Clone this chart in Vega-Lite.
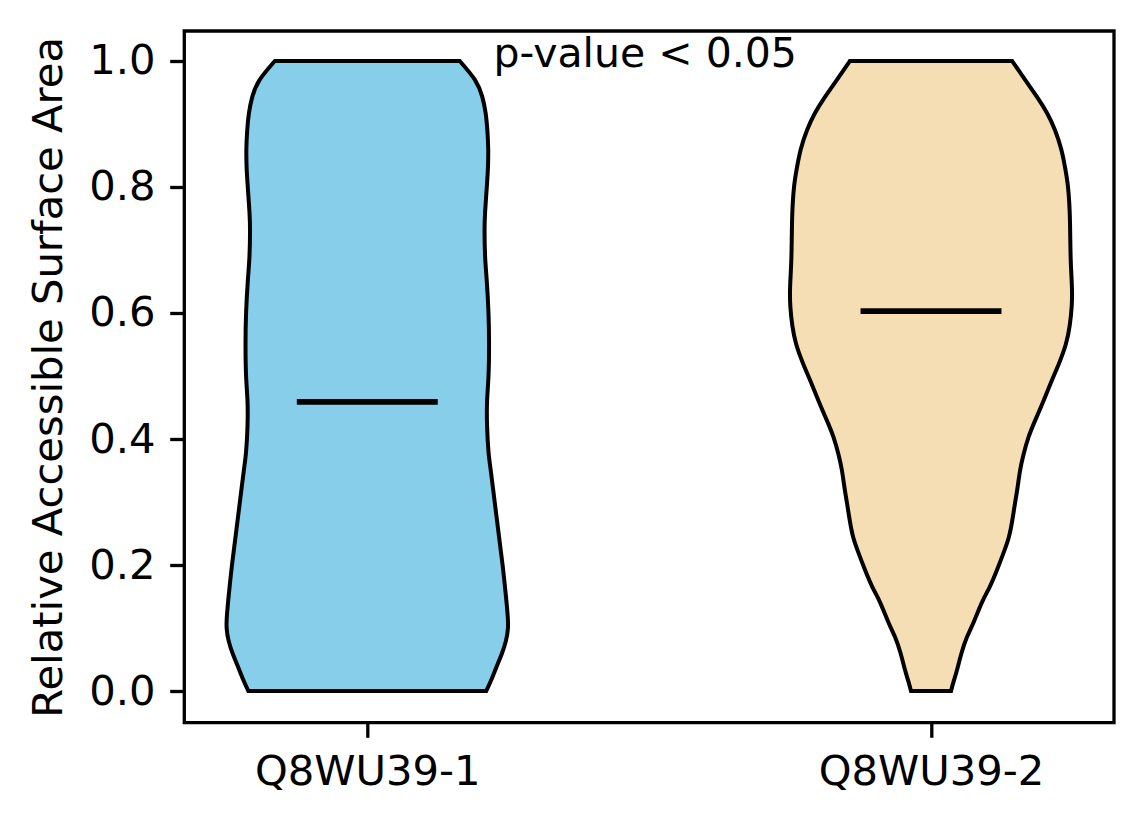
{
  "$schema": "https://vega.github.io/schema/vega-lite/v6.json",
  "width": 929.7,
  "height": 691.7,
  "autosize": "none",
  "padding": {"left": 184.3, "top": 31, "right": 30, "bottom": 101.3},
  "background": "white",
  "config": {
    "view": {"stroke": "black", "strokeWidth": 3.3},
    "font": "DejaVu Sans",
    "axis": {
      "labelFont": "DejaVu Sans",
      "titleFont": "DejaVu Sans",
      "labelFontSize": 41.7,
      "titleFontSize": 41.7,
      "titleFontWeight": "normal",
      "labelColor": "black",
      "titleColor": "black",
      "labelLimit": 500,
      "titleLimit": 1000,
      "domain": false,
      "grid": false,
      "ticks": true,
      "tickColor": "black",
      "tickWidth": 3.3,
      "tickSize": 14.6,
      "labelPadding": 14.6
    }
  },
  "datasets": {
    "violins": [
      {"g": "Q8WU39-1", "y": 1.0, "lo": 0.836, "hi": 1.164},
      {"g": "Q8WU39-1", "y": 0.970, "lo": 0.809, "hi": 1.191},
      {"g": "Q8WU39-1", "y": 0.943, "lo": 0.796, "hi": 1.204},
      {"g": "Q8WU39-1", "y": 0.917, "lo": 0.790, "hi": 1.210},
      {"g": "Q8WU39-1", "y": 0.890, "lo": 0.787, "hi": 1.213},
      {"g": "Q8WU39-1", "y": 0.860, "lo": 0.7855, "hi": 1.2145},
      {"g": "Q8WU39-1", "y": 0.830, "lo": 0.786, "hi": 1.214},
      {"g": "Q8WU39-1", "y": 0.800, "lo": 0.788, "hi": 1.212},
      {"g": "Q8WU39-1", "y": 0.760, "lo": 0.791, "hi": 1.209},
      {"g": "Q8WU39-1", "y": 0.730, "lo": 0.792, "hi": 1.208},
      {"g": "Q8WU39-1", "y": 0.690, "lo": 0.791, "hi": 1.209},
      {"g": "Q8WU39-1", "y": 0.650, "lo": 0.788, "hi": 1.212},
      {"g": "Q8WU39-1", "y": 0.600, "lo": 0.785, "hi": 1.215},
      {"g": "Q8WU39-1", "y": 0.550, "lo": 0.784, "hi": 1.216},
      {"g": "Q8WU39-1", "y": 0.500, "lo": 0.785, "hi": 1.215},
      {"g": "Q8WU39-1", "y": 0.460, "lo": 0.7875, "hi": 1.2125},
      {"g": "Q8WU39-1", "y": 0.420, "lo": 0.7875, "hi": 1.2125},
      {"g": "Q8WU39-1", "y": 0.380, "lo": 0.785, "hi": 1.215},
      {"g": "Q8WU39-1", "y": 0.350, "lo": 0.781, "hi": 1.219},
      {"g": "Q8WU39-1", "y": 0.300, "lo": 0.774, "hi": 1.226},
      {"g": "Q8WU39-1", "y": 0.250, "lo": 0.767, "hi": 1.233},
      {"g": "Q8WU39-1", "y": 0.200, "lo": 0.760, "hi": 1.240},
      {"g": "Q8WU39-1", "y": 0.150, "lo": 0.754, "hi": 1.246},
      {"g": "Q8WU39-1", "y": 0.120, "lo": 0.751, "hi": 1.249},
      {"g": "Q8WU39-1", "y": 0.100, "lo": 0.7505, "hi": 1.2495},
      {"g": "Q8WU39-1", "y": 0.080, "lo": 0.754, "hi": 1.246},
      {"g": "Q8WU39-1", "y": 0.060, "lo": 0.761, "hi": 1.239},
      {"g": "Q8WU39-1", "y": 0.040, "lo": 0.770, "hi": 1.230},
      {"g": "Q8WU39-1", "y": 0.020, "lo": 0.779, "hi": 1.221},
      {"g": "Q8WU39-1", "y": 0.0, "lo": 0.789, "hi": 1.211},
      {"g": "Q8WU39-2", "y": 1.0, "lo": 1.856, "hi": 2.144},
      {"g": "Q8WU39-2", "y": 0.970, "lo": 1.833, "hi": 2.167},
      {"g": "Q8WU39-2", "y": 0.943, "lo": 1.812, "hi": 2.188},
      {"g": "Q8WU39-2", "y": 0.917, "lo": 1.794, "hi": 2.206},
      {"g": "Q8WU39-2", "y": 0.890, "lo": 1.780, "hi": 2.220},
      {"g": "Q8WU39-2", "y": 0.860, "lo": 1.769, "hi": 2.231},
      {"g": "Q8WU39-2", "y": 0.830, "lo": 1.762, "hi": 2.238},
      {"g": "Q8WU39-2", "y": 0.800, "lo": 1.757, "hi": 2.243},
      {"g": "Q8WU39-2", "y": 0.760, "lo": 1.754, "hi": 2.246},
      {"g": "Q8WU39-2", "y": 0.720, "lo": 1.753, "hi": 2.247},
      {"g": "Q8WU39-2", "y": 0.680, "lo": 1.752, "hi": 2.248},
      {"g": "Q8WU39-2", "y": 0.640, "lo": 1.750, "hi": 2.250},
      {"g": "Q8WU39-2", "y": 0.610, "lo": 1.7505, "hi": 2.2495},
      {"g": "Q8WU39-2", "y": 0.580, "lo": 1.754, "hi": 2.246},
      {"g": "Q8WU39-2", "y": 0.550, "lo": 1.761, "hi": 2.239},
      {"g": "Q8WU39-2", "y": 0.520, "lo": 1.773, "hi": 2.227},
      {"g": "Q8WU39-2", "y": 0.490, "lo": 1.787, "hi": 2.213},
      {"g": "Q8WU39-2", "y": 0.457, "lo": 1.802, "hi": 2.198},
      {"g": "Q8WU39-2", "y": 0.430, "lo": 1.815, "hi": 2.185},
      {"g": "Q8WU39-2", "y": 0.403, "lo": 1.827, "hi": 2.173},
      {"g": "Q8WU39-2", "y": 0.375, "lo": 1.836, "hi": 2.164},
      {"g": "Q8WU39-2", "y": 0.350, "lo": 1.842, "hi": 2.158},
      {"g": "Q8WU39-2", "y": 0.320, "lo": 1.847, "hi": 2.153},
      {"g": "Q8WU39-2", "y": 0.298, "lo": 1.851, "hi": 2.149},
      {"g": "Q8WU39-2", "y": 0.270, "lo": 1.856, "hi": 2.144},
      {"g": "Q8WU39-2", "y": 0.244, "lo": 1.862, "hi": 2.138},
      {"g": "Q8WU39-2", "y": 0.220, "lo": 1.871, "hi": 2.129},
      {"g": "Q8WU39-2", "y": 0.192, "lo": 1.883, "hi": 2.117},
      {"g": "Q8WU39-2", "y": 0.165, "lo": 1.896, "hi": 2.104},
      {"g": "Q8WU39-2", "y": 0.140, "lo": 1.910, "hi": 2.090},
      {"g": "Q8WU39-2", "y": 0.110, "lo": 1.924, "hi": 2.076},
      {"g": "Q8WU39-2", "y": 0.086, "lo": 1.936, "hi": 2.064},
      {"g": "Q8WU39-2", "y": 0.060, "lo": 1.946, "hi": 2.054},
      {"g": "Q8WU39-2", "y": 0.033, "lo": 1.954, "hi": 2.046},
      {"g": "Q8WU39-2", "y": 0.015, "lo": 1.960, "hi": 2.040},
      {"g": "Q8WU39-2", "y": 0.0, "lo": 1.9645, "hi": 2.0355}
    ],
    "medians": [
      {"g": "Q8WU39-1", "m": 0.459, "lo": 0.875, "hi": 1.125},
      {"g": "Q8WU39-2", "m": 0.603, "lo": 1.875, "hi": 2.125}
    ],
    "notes": [
      {"x": 1.493, "y": 0.991, "label": "p-value < 0.05"}
    ]
  },
  "layer": [
    {
      "data": {"name": "violins"},
      "mark": {"type": "area", "orient": "horizontal", "interpolate": "natural", "stroke": "black", "strokeWidth": 4, "strokeJoin": "miter", "opacity": 1, "fillOpacity": 1},
      "encoding": {
        "y": {"field": "y", "type": "quantitative", "scale": {"domain": [-0.0503, 1.0476], "nice": false, "zero": false},
              "axis": {"title": "Relative Accessible Surface Area", "values": [0, 0.2, 0.4, 0.6, 0.8, 1.0], "format": ".1f", "titlePadding": 18}},
        "x": {"field": "lo", "type": "quantitative", "stack": null, "scale": {"domain": [0.6754, 2.3246], "nice": false, "zero": false},
              "axis": {"title": null, "values": [1, 2], "labelExpr": "datum.value == 1 ? 'Q8WU39-1' : 'Q8WU39-2'"}},
        "x2": {"field": "hi"},
        "color": {"field": "g", "type": "nominal", "scale": {"domain": ["Q8WU39-1", "Q8WU39-2"], "range": ["#87CEEB", "#F5DEB3"]}, "legend": null}
      }
    },
    {
      "data": {"name": "medians"},
      "mark": {"type": "rule", "color": "black", "strokeWidth": 5.8},
      "encoding": {
        "y": {"field": "m", "type": "quantitative"},
        "x": {"field": "lo", "type": "quantitative"},
        "x2": {"field": "hi"}
      }
    },
    {
      "data": {"name": "notes"},
      "mark": {"type": "text", "fontSize": 41, "font": "DejaVu Sans", "color": "black", "align": "center", "baseline": "alphabetic"},
      "encoding": {
        "x": {"field": "x", "type": "quantitative"},
        "y": {"field": "y", "type": "quantitative"},
        "text": {"field": "label"}
      }
    }
  ]
}
